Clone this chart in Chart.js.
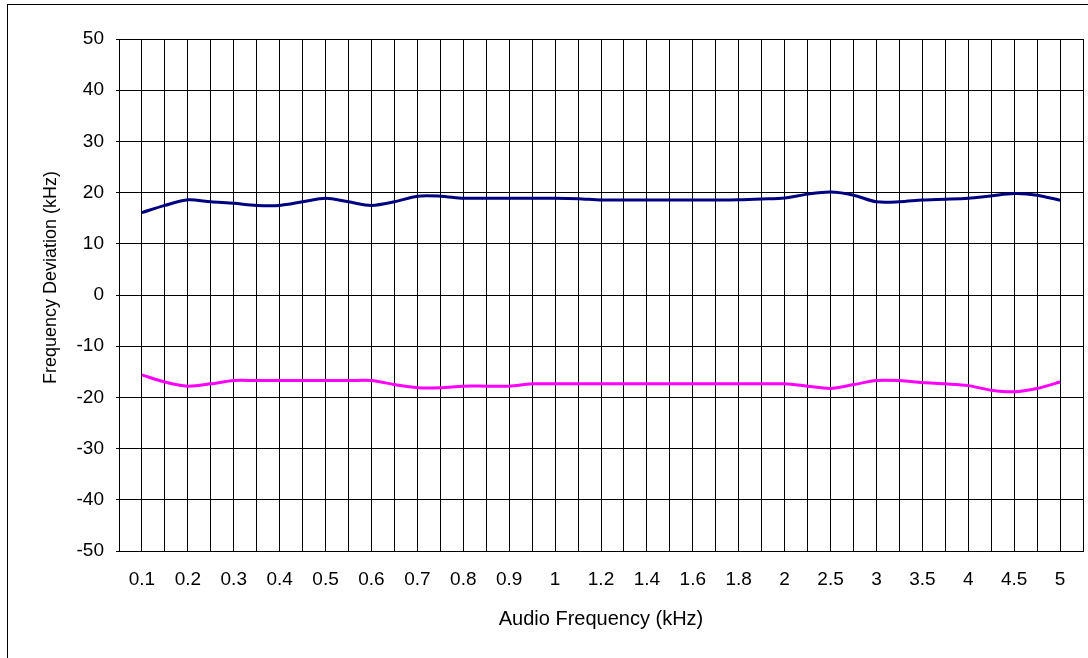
<!DOCTYPE html>
<html>
<head>
<meta charset="utf-8">
<script src="https://cdn.jsdelivr.net/npm/chart.js@4/dist/chart.umd.min.js"></script>
<style>
  html, body { margin: 0; padding: 0; background: #fff; }
  #wrap { position: relative; width: 1088px; height: 658px; overflow: hidden; }
  #frame { position: absolute; left: 7px; top: 4px; width: 1200px; height: 800px; border: 1px solid #000; box-sizing: border-box; }
  #c { position: absolute; left: 0; top: 0; }
</style>
</head>
<body>
<div id="wrap">
  <div id="frame"></div>
  <canvas id="c" width="1088" height="658"></canvas>
</div>
<script>
// Audio frequencies (kHz) of the measured points
const frequencies = [
  '0.1','0.15','0.2','0.25','0.3','0.35','0.4','0.45','0.5','0.55',
  '0.6','0.65','0.7','0.75','0.8','0.85','0.9','0.95','1','1.1',
  '1.2','1.3','1.4','1.5','1.6','1.7','1.8','1.9','2','2.25',
  '2.5','2.75','3','3.25','3.5','3.75','4','4.25','4.5','4.75','5'
];
// Tick labels that are shown on the x axis
const tickLabels = ['0.1','0.2','0.3','0.4','0.5','0.6','0.7','0.8','0.9','1',
  '1.2','1.4','1.6','1.8','2','2.5','3','3.5','4','4.5','5'];
// Positive frequency deviation (kHz)
const positiveDeviation = [
  16.1,17.5,18.6,18.2,17.9,17.5,17.5,18.2,18.9,18.2,
  17.5,18.2,19.3,19.3,18.9,18.9,18.9,18.9,18.9,18.8,
  18.55,18.55,18.55,18.55,18.55,18.55,18.6,18.75,18.95,19.7,
  20.1,19.5,18.2,18.2,18.55,18.7,18.9,19.35,19.8,19.5,18.5
];
// Negative frequency deviation (kHz)
const negativeDeviation = [
  -15.6,-17.0,-17.8,-17.35,-16.7,-16.7,-16.7,-16.7,-16.7,-16.7,
  -16.7,-17.5,-18.1,-18.1,-17.8,-17.8,-17.8,-17.35,-17.35,-17.35,
  -17.35,-17.35,-17.35,-17.35,-17.35,-17.35,-17.35,-17.35,-17.35,-17.8,
  -18.25,-17.5,-16.7,-16.7,-17.1,-17.35,-17.7,-18.6,-18.9,-18.25,-17.0
];

// Empty categories at both ends give the one-slot margin of the original
const labels = [''].concat(frequencies, ['']);
const pad = arr => [null].concat(arr, [null]);

const FONT = "'Liberation Sans', Arial, sans-serif";

new Chart(document.getElementById('c'), {
  type: 'line',
  data: {
    labels: labels,
    datasets: [
      { label: 'Positive', data: pad(positiveDeviation), borderColor: '#000080', backgroundColor: '#000080',
        borderWidth: 3, pointRadius: 0, tension: 0.3, fill: false },
      { label: 'Negative', data: pad(negativeDeviation), borderColor: '#FF00FF', backgroundColor: '#FF00FF',
        borderWidth: 3, pointRadius: 0, tension: 0.3, fill: false }
    ]
  },
  options: {
    responsive: false,
    animation: false,
    devicePixelRatio: 1,
    layout: { padding: { top: 39, right: 5, left: 0, bottom: 0 } },
    plugins: { legend: { display: false }, tooltip: { enabled: false } },
    scales: {
      x: {
        type: 'category',
        offset: false,
        grid: { color: '#000', lineWidth: 1, drawTicks: false, offset: false },
        border: { color: '#000', width: 1 },
        ticks: {
          autoSkip: false, maxRotation: 0, minRotation: 0, padding: 17,
          color: '#000', font: { family: FONT, size: 19 },
          callback: function(value, index) {
            const l = labels[index];
            return tickLabels.includes(l) ? l : '';
          }
        },
        title: { display: true, text: 'Audio Frequency (kHz)', color: '#000',
                 font: { family: FONT, size: 20 }, padding: { top: 0, bottom: 27 } },
        afterFit: s => { s.height = 107; s.paddingLeft = 0; s.paddingRight = 0; }
      },
      y: {
        min: -50, max: 50,
        grid: { color: '#000', lineWidth: 1, drawTicks: true, tickLength: 3 },
        border: { color: '#000', width: 1 },
        ticks: { stepSize: 10, padding: 12, color: '#000', font: { family: FONT, size: 19 } },
        title: { display: true, text: '\u00a0\u00a0\u00a0\u00a0\u00a0\u00a0\u00a0Frequency Deviation (kHz)', color: '#000',
                 font: { family: FONT, size: 18 }, padding: { top: 40, bottom: 0 } },
        afterFit: s => { s.width = 119; }
      }
    }
  }
});
</script>
</body>
</html>
